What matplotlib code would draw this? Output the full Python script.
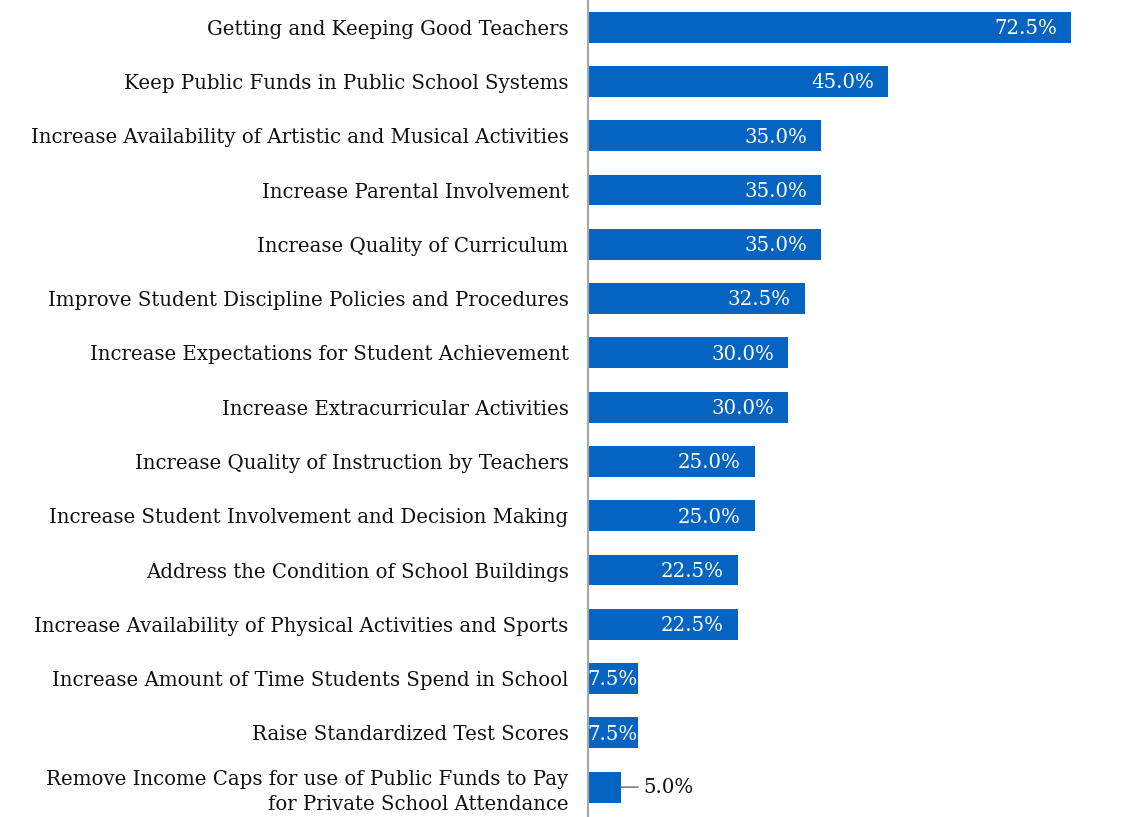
import matplotlib
matplotlib.use("Agg")
import matplotlib.pyplot as plt

categories = [
    "Getting and Keeping Good Teachers",
    "Keep Public Funds in Public School Systems",
    "Increase Availability of Artistic and Musical Activities",
    "Increase Parental Involvement",
    "Increase Quality of Curriculum",
    "Improve Student Discipline Policies and Procedures",
    "Increase Expectations for Student Achievement",
    "Increase Extracurricular Activities",
    "Increase Quality of Instruction by Teachers",
    "Increase Student Involvement and Decision Making",
    "Address the Condition of School Buildings",
    "Increase Availability of Physical Activities and Sports",
    "Increase Amount of Time Students Spend in School",
    "Raise Standardized Test Scores",
    "Remove Income Caps for use of Public Funds to Pay\nfor Private School Attendance",
]
values = [72.5, 45.0, 35.0, 35.0, 35.0, 32.5, 30.0, 30.0, 25.0, 25.0, 22.5, 22.5, 7.5, 7.5, 5.0]

FONT = "DejaVu Serif"
FS = 14.2
BAR = "#0563C1"
TXT = "#111111"

fig = plt.figure(figsize=(11.25, 8.17), dpi=100)
ax = fig.add_axes([588 / 1125, 0, 1 - 588 / 1125, 1])
ypos = list(range(len(categories)))
ax.barh(ypos, values, height=0.57, color=BAR)
ax.set_ylim(14.55, -0.5)
ax.set_xlim(0, 537 / 6.662)

for s in ["top", "right", "bottom"]:
    ax.spines[s].set_visible(False)
ax.spines["left"].set_color("#A6A6A6")
ax.spines["left"].set_linewidth(1.5)
ax.set_xticks([])
ax.set_yticks(ypos)
ax.set_yticklabels(categories, fontfamily=FONT, fontsize=FS, color=TXT, linespacing=1.4)
ax.tick_params(axis="y", length=0, pad=14)

for y, v in zip(ypos, values):
    lab = f"{v:.1f}%"
    if v >= 10:
        ax.annotate(lab, (v, y), xytext=(-10, -1), textcoords="offset points",
                    ha="right", va="center", color="white", fontfamily=FONT, fontsize=FS)
    elif v > 6:
        ax.annotate(lab, (v / 2, y), xytext=(0, -1), textcoords="offset points",
                    ha="center", va="center", color="white",
                    fontfamily=FONT, fontsize=FS)
    else:
        ax.annotate(lab, (v, y), xytext=(16, 0), textcoords="offset points",
                    ha="left", va="center", color=TXT, fontfamily=FONT, fontsize=FS,
                    arrowprops=dict(arrowstyle="-", color="#808080", lw=1.2,
                                    shrinkA=2, shrinkB=0))

fig.savefig("out.png", dpi=100)
